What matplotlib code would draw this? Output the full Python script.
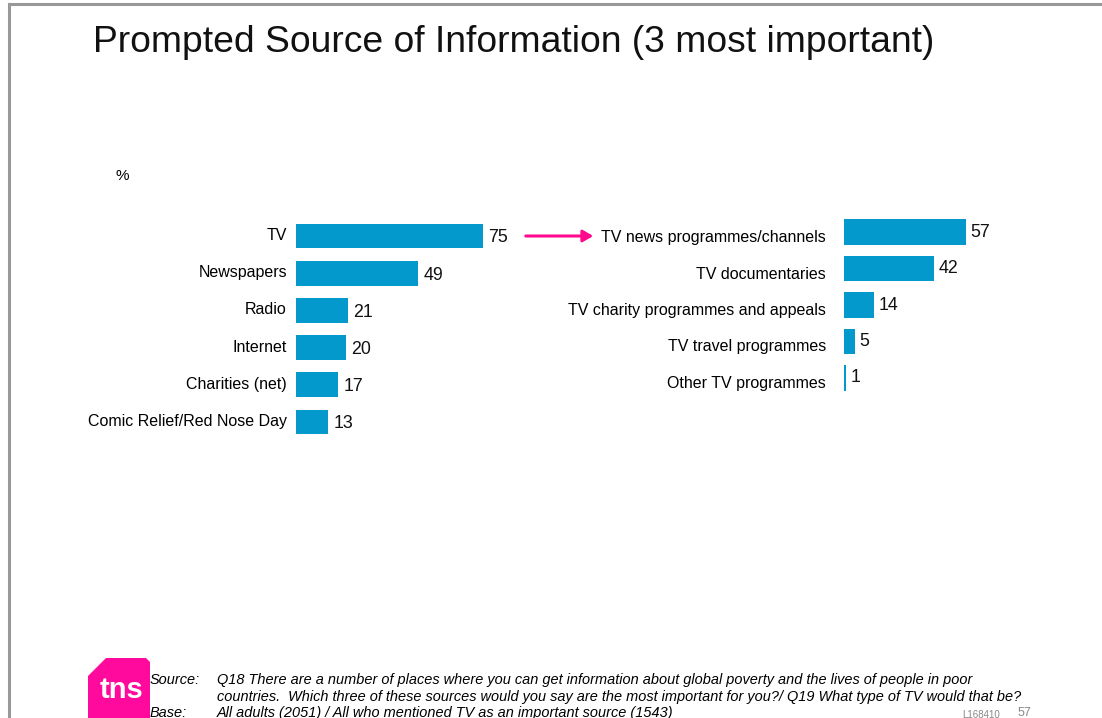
import matplotlib
matplotlib.use("Agg")
import matplotlib.pyplot as plt
from matplotlib.patches import Polygon, FancyArrowPatch
from matplotlib.lines import Line2D
import matplotlib.transforms as mtrans

plt.rcParams['font.family'] = ['Liberation Sans', 'DejaVu Sans']

left_cats = ["TV", "Newspapers", "Radio", "Internet", "Charities (net)", "Comic Relief/Red Nose Day"]
left_vals = [75, 49, 21, 20, 17, 13]
right_cats = ["TV news programmes/channels", "TV documentaries", "TV charity programmes and appeals",
              "TV travel programmes", "Other TV programmes"]
right_vals = [57, 42, 14, 5, 1]

title = "Prompted Source of Information (3 most important)"
source_lines = ["Q18 There are a number of places where you can get information about global poverty and the lives of people in poor",
                "countries.  Which three of these sources would you say are the most important for you?/ Q19 What type of TV would that be?"]
base_line = "All adults (2051) / All who mentioned TV as an important source (1543)"

W, H = 1102, 718
BAR = '#0499CC'
MAG = '#FF0A8C'
fig = plt.figure(figsize=(W / 100, H / 100), dpi=100)

def ax_px(x0, y0, w, h):
    return fig.add_axes([x0 / W, 1 - (y0 + h) / H, w / W, h / H])

# frame lines
fig.add_artist(Line2D([8.5 / W, 8.5 / W], [0, 1 - 3.5 / H], transform=fig.transFigure, color='#999999', lw=2.2))
fig.add_artist(Line2D([8.5 / W, 1], [1 - 3.5 / H, 1 - 3.5 / H], transform=fig.transFigure, color='#999999', lw=2.2))

fig.text(93 / W, 1 - 42 / H, title, fontsize=26.8, va='center', ha='left', color='#111111')
fig.text(115 / W, 1 - 176 / H, "%", fontsize=11, va='center', ha='left')

def draw(ax, cats, vals, height, label_dy, pad):
    y = list(range(len(cats)))
    ax.barh(y, vals, height=height, color=BAR)
    ax.set_xlim(0, 100)
    ax.set_ylim(len(cats) - 0.5, -0.5)
    ax.set_yticks(y)
    ax.set_yticklabels(cats, fontsize=11.5)
    ax.tick_params(axis='y', length=0, pad=pad)
    ax.set_xticks([])
    for s in ax.spines.values():
        s.set_visible(False)
    for yi, v in zip(y, vals):
        ax.text(v + 2.0, yi + label_dy, str(v), va='center', ha='left', fontsize=12.8, color='#111111')

axL = ax_px(296, 217.4, 249.3, 223.2)
draw(axL, left_cats, left_vals, 0.67, 0.05, 6.5)
offL = mtrans.ScaledTranslation(0, 2 / 100, fig.dpi_scale_trans)
for t in axL.get_yticklabels():
    t.set_transform(t.get_transform() + offL)

axR = ax_px(844, 213.75, 214, 182.5)
draw(axR, right_cats, right_vals, 0.71, 0.0, 13)
offR = mtrans.ScaledTranslation(0, -4 / 100, fig.dpi_scale_trans)
for t in axR.get_yticklabels():
    t.set_transform(t.get_transform() + offR)

# arrow
fig.add_artist(FancyArrowPatch((523 / W, 1 - 236 / H), (596 / W, 1 - 236 / H),
               transform=fig.transFigure, arrowstyle='-|>,head_length=6,head_width=3.5',
               mutation_scale=1, color=MAG, lw=2.2))

# tns logo
pts = [(88, 676), (106, 658), (146, 658), (150, 662), (150, 718), (88, 718)]
logo = Polygon([(x / W, 1 - y / H) for x, y in pts], closed=True, transform=fig.transFigure,
               facecolor='#FF0A9C', edgecolor='none')
fig.add_artist(logo)
fig.text(121 / W, 1 - 690 / H, "tns", fontsize=21, color='white', fontweight='bold', ha='center', va='center')

fs = 10.45
fig.text(150 / W, 1 - 680 / H, "Source:", fontsize=fs, style='italic', va='center')
fig.text(217 / W, 1 - 680 / H, source_lines[0], fontsize=fs, style='italic', va='center')
fig.text(217 / W, 1 - 697 / H, source_lines[1], fontsize=fs, style='italic', va='center')
fig.text(150 / W, 1 - 713 / H, "Base:", fontsize=fs, style='italic', va='center')
fig.text(217 / W, 1 - 713 / H, base_line, fontsize=fs, style='italic', va='center')
fig.text(962 / W, 1 - 715 / H, "L168410", fontsize=7, color='#888888', va='center')
fig.text(1018 / W, 1 - 713 / H, "57", fontsize=9, color='#888888', va='center')

fig.savefig("out.png", dpi=100)
